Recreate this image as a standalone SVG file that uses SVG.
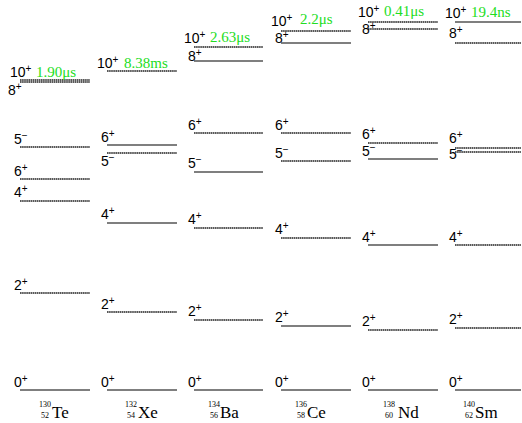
<svg xmlns="http://www.w3.org/2000/svg" width="522" height="423" viewBox="0 0 522 423">
<style>
.s{stroke:#000;stroke-width:1.2;fill:none}
.d{stroke:#222;stroke-width:1.3;fill:none;stroke-dasharray:1.6 0.5}
.l{font-family:"Liberation Sans",Arial,sans-serif;font-size:14px;fill:#000}
.sup{font-size:10px}
.t{font-family:"Liberation Serif","Times New Roman",serif;font-size:15px;fill:#22dd22}
.n{font-family:"Liberation Serif","Times New Roman",serif;font-size:17px;fill:#000}
.ns{font-family:"Liberation Serif","Times New Roman",serif;font-size:8px;fill:#000}
</style>
<rect width="522" height="423" fill="#fff"/>
<g id="te130">
<line class="d" x1="20" y1="80" x2="90" y2="80"/>
<line class="d" x1="20" y1="82" x2="90" y2="82"/>
<line class="d" x1="20" y1="147" x2="90" y2="147"/>
<line class="d" x1="20" y1="179" x2="90" y2="179"/>
<line class="d" x1="20" y1="201" x2="90" y2="201"/>
<line class="d" x1="20" y1="293" x2="90" y2="293"/>
<line class="s" x1="20" y1="390" x2="90" y2="390"/>
<text class="l" x="10" y="77">10<tspan class="sup" dy="-5">+</tspan></text>
<text class="t" x="36" y="77">1.90μs</text>
<text class="l" x="8" y="95">8<tspan class="sup" dy="-5">+</tspan></text>
<text class="l" x="14" y="144">5<tspan class="sup" dy="-5">−</tspan></text>
<text class="l" x="14" y="176">6<tspan class="sup" dy="-5">+</tspan></text>
<text class="l" x="14" y="197">4<tspan class="sup" dy="-5">+</tspan></text>
<text class="l" x="14" y="290">2<tspan class="sup" dy="-5">+</tspan></text>
<text class="l" x="14" y="387">0<tspan class="sup" dy="-5">+</tspan></text>
<text class="ns" x="39" y="407">130</text>
<text class="ns" x="41" y="418">52</text>
<text class="n" x="52" y="418">Te</text>
</g>
<g id="xe132">
<line class="d" x1="107" y1="71" x2="177" y2="71"/>
<line class="s" x1="107" y1="145" x2="177" y2="145"/>
<line class="d" x1="107" y1="153" x2="177" y2="153"/>
<line class="s" x1="107" y1="223" x2="177" y2="223"/>
<line class="d" x1="107" y1="312" x2="177" y2="312"/>
<line class="s" x1="107" y1="390" x2="177" y2="390"/>
<text class="l" x="97" y="68">10<tspan class="sup" dy="-5">+</tspan></text>
<text class="t" x="124" y="68">8.38ms</text>
<text class="l" x="101" y="142">6<tspan class="sup" dy="-5">+</tspan></text>
<text class="l" x="101" y="166">5<tspan class="sup" dy="-5">−</tspan></text>
<text class="l" x="101" y="219">4<tspan class="sup" dy="-5">+</tspan></text>
<text class="l" x="101" y="309">2<tspan class="sup" dy="-5">+</tspan></text>
<text class="l" x="101" y="387">0<tspan class="sup" dy="-5">+</tspan></text>
<text class="ns" x="125" y="407">132</text>
<text class="ns" x="127" y="418">54</text>
<text class="n" x="138" y="418">Xe</text>
</g>
<g id="ba134">
<line class="d" x1="194" y1="47" x2="263" y2="47"/>
<line class="s" x1="194" y1="61" x2="263" y2="61"/>
<line class="d" x1="194" y1="133" x2="263" y2="133"/>
<line class="s" x1="194" y1="172" x2="263" y2="172"/>
<line class="d" x1="194" y1="228" x2="263" y2="228"/>
<line class="d" x1="194" y1="320" x2="263" y2="320"/>
<line class="s" x1="194" y1="390" x2="263" y2="390"/>
<text class="l" x="184" y="43">10<tspan class="sup" dy="-5">+</tspan></text>
<text class="t" x="210" y="42">2.63μs</text>
<text class="l" x="188" y="61">8<tspan class="sup" dy="-5">+</tspan></text>
<text class="l" x="188" y="130">6<tspan class="sup" dy="-5">+</tspan></text>
<text class="l" x="188" y="168">5<tspan class="sup" dy="-5">−</tspan></text>
<text class="l" x="188" y="224">4<tspan class="sup" dy="-5">+</tspan></text>
<text class="l" x="188" y="316">2<tspan class="sup" dy="-5">+</tspan></text>
<text class="l" x="188" y="387">0<tspan class="sup" dy="-5">+</tspan></text>
<text class="ns" x="208" y="407">134</text>
<text class="ns" x="210" y="418">56</text>
<text class="n" x="220" y="418">Ba</text>
</g>
<g id="ce136">
<line class="d" x1="281" y1="31" x2="351" y2="31"/>
<line class="s" x1="281" y1="43" x2="351" y2="43"/>
<line class="d" x1="281" y1="133" x2="351" y2="133"/>
<line class="d" x1="281" y1="161" x2="351" y2="161"/>
<line class="d" x1="281" y1="238" x2="351" y2="238"/>
<line class="s" x1="281" y1="326" x2="351" y2="326"/>
<line class="s" x1="281" y1="390" x2="351" y2="390"/>
<text class="l" x="271" y="26">10<tspan class="sup" dy="-5">+</tspan></text>
<text class="t" x="300" y="24">2.2μs</text>
<text class="l" x="275" y="43">8<tspan class="sup" dy="-5">+</tspan></text>
<text class="l" x="275" y="130">6<tspan class="sup" dy="-5">+</tspan></text>
<text class="l" x="275" y="158">5<tspan class="sup" dy="-5">−</tspan></text>
<text class="l" x="275" y="234">4<tspan class="sup" dy="-5">+</tspan></text>
<text class="l" x="275" y="322">2<tspan class="sup" dy="-5">+</tspan></text>
<text class="l" x="275" y="387">0<tspan class="sup" dy="-5">+</tspan></text>
<text class="ns" x="295" y="407">136</text>
<text class="ns" x="297" y="418">58</text>
<text class="n" x="307" y="418">Ce</text>
</g>
<g id="nd138">
<line class="d" x1="368" y1="22" x2="438" y2="22"/>
<line class="d" x1="368" y1="29" x2="438" y2="29"/>
<line class="d" x1="368" y1="143" x2="438" y2="143"/>
<line class="s" x1="368" y1="159" x2="438" y2="159"/>
<line class="s" x1="368" y1="245" x2="438" y2="245"/>
<line class="d" x1="368" y1="330" x2="438" y2="330"/>
<line class="s" x1="368" y1="390" x2="438" y2="390"/>
<text class="l" x="358" y="17">10<tspan class="sup" dy="-5">+</tspan></text>
<text class="t" x="384" y="16">0.41μs</text>
<text class="l" x="362" y="34">8<tspan class="sup" dy="-5">+</tspan></text>
<text class="l" x="362" y="139">6<tspan class="sup" dy="-5">+</tspan></text>
<text class="l" x="362" y="156">5<tspan class="sup" dy="-5">−</tspan></text>
<text class="l" x="362" y="242">4<tspan class="sup" dy="-5">+</tspan></text>
<text class="l" x="362" y="326">2<tspan class="sup" dy="-5">+</tspan></text>
<text class="l" x="362" y="387">0<tspan class="sup" dy="-5">+</tspan></text>
<text class="ns" x="383" y="407">138</text>
<text class="ns" x="385" y="418">60</text>
<text class="n" x="398" y="418">Nd</text>
</g>
<g id="sm140">
<line class="s" x1="455" y1="22" x2="521" y2="22"/>
<line class="d" x1="455" y1="43" x2="521" y2="43"/>
<line class="d" x1="455" y1="148" x2="521" y2="148"/>
<line class="d" x1="455" y1="152" x2="521" y2="152"/>
<line class="d" x1="455" y1="245" x2="521" y2="245"/>
<line class="d" x1="455" y1="328" x2="521" y2="328"/>
<line class="s" x1="455" y1="390" x2="521" y2="390"/>
<text class="l" x="445" y="18">10<tspan class="sup" dy="-5">+</tspan></text>
<text class="t" x="471" y="17">19.4ns</text>
<text class="l" x="449" y="38">8<tspan class="sup" dy="-5">+</tspan></text>
<text class="l" x="449" y="143">6<tspan class="sup" dy="-5">+</tspan></text>
<text class="l" x="449" y="159">5<tspan class="sup" dy="-5">−</tspan></text>
<text class="l" x="449" y="242">4<tspan class="sup" dy="-5">+</tspan></text>
<text class="l" x="449" y="324">2<tspan class="sup" dy="-5">+</tspan></text>
<text class="l" x="449" y="387">0<tspan class="sup" dy="-5">+</tspan></text>
<text class="ns" x="463" y="407">140</text>
<text class="ns" x="465" y="418">62</text>
<text class="n" x="475" y="418">Sm</text>
</g>
<g id="connectors"/>
</svg>
